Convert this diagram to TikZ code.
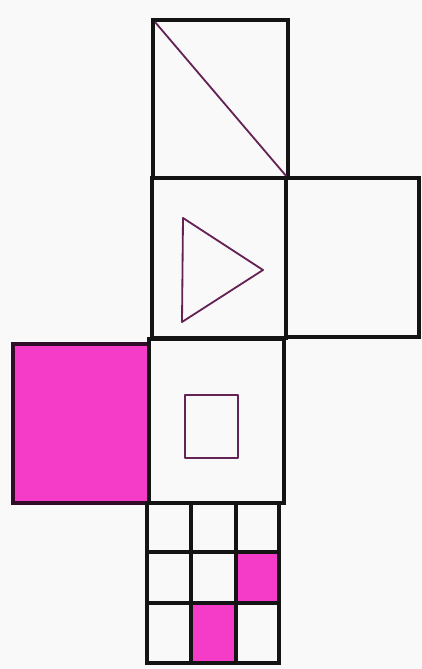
\documentclass[tikz,border=0pt]{standalone}
\definecolor{hotpink}{RGB}{244,60,200}
\definecolor{inkpurple}{RGB}{100,35,85}
\definecolor{paper}{RGB}{250,249,250}
\begin{document}
\begin{tikzpicture}[x=0.05cm,y=-0.05cm,
  face/.style={draw=black!92,line width=6pt,line join=miter},
  thin/.style={draw=inkpurple,line width=2.6pt,line join=round},
  cell/.style={draw=black!92,line width=5.4pt}]
\fill[paper] (0,0) rectangle (422,669);
\useasboundingbox (0,0) rectangle (422,669);
% top face
\draw[face] (153,20) rectangle (288,178);
\draw[thin] (155,22) -- (287,177);
% middle row
\draw[face] (152,178) rectangle (286,338);
\draw[face] (286,178) rectangle (419,337);
\draw[thin] (183,218) -- (263,270) -- (182,322) -- cycle;
% third row
\fill[hotpink] (13,344) rectangle (149,503);
\draw[face,draw=black!80!hotpink] (13,344) rectangle (149,503);
\draw[face] (149,339) rectangle (284,503);
\draw[thin] (185,395) rectangle (238,458);
% bottom grid
\fill[hotpink] (236,552) rectangle (279,603);
\fill[hotpink] (191,603) rectangle (236,663);
\draw[cell] (147,503) rectangle (279,663);
\draw[cell] (191,503) -- (191,663);
\draw[cell] (236,503) -- (236,663);
\draw[cell] (147,552) -- (279,552);
\draw[cell] (147,603) -- (279,603);
\end{tikzpicture}
\end{document}
